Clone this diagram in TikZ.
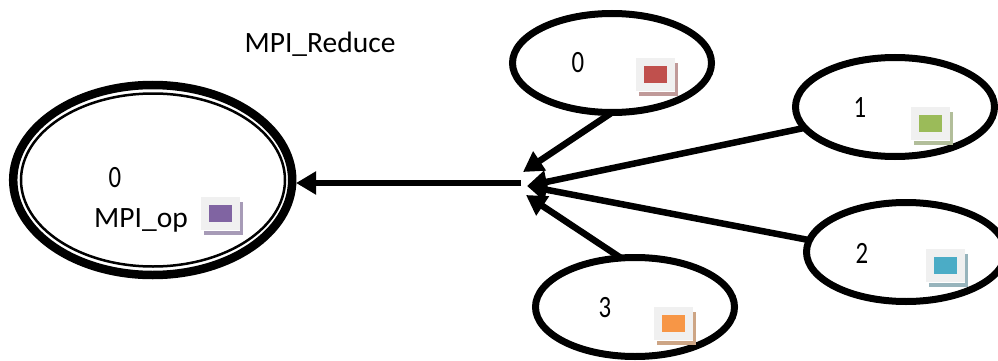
\documentclass[tikz,border=0pt]{standalone}
\usepackage{fontspec}
\setmainfont{Carlito}
\usetikzlibrary{arrows.meta,shapes.geometric}
\newcommand{\myicon}[4]{%
  \fill[#4] (#1+3,#2+5) rectangle ++(39,33);
  \fill[white] (#1+1,#2+3) rectangle ++(38,31);
  \fill[iconbg] (#1,#2) rectangle ++(39,33);
  \fill[#3] (#1+7.5,#2+8) rectangle ++(23.5,17);
}
\definecolor{iconbg}{HTML}{F0F0F0}
\definecolor{pv}{HTML}{8064A2}\definecolor{pvs}{HTML}{A79BB7}
\definecolor{rd}{HTML}{C0504D}\definecolor{rds}{HTML}{C09A99}
\definecolor{gn}{HTML}{9BBB59}\definecolor{gns}{HTML}{B2BE9A}
\definecolor{bl}{HTML}{4BACC6}\definecolor{bls}{HTML}{97B4BC}
\definecolor{og}{HTML}{F79646}\definecolor{ogs}{HTML}{CDA585}
\tikzset{
  proc/.style={draw,ellipse,line width=7pt,minimum width=199pt,minimum height=99pt,inner sep=0pt,outer sep=0pt},
  flow/.style={line width=6.5pt,-{Triangle[length=20pt,width=22pt]}},
  lbl/.style={font=\fontsize{29.5}{30}\selectfont,inner sep=0pt},
  num/.style={font=\fontsize{31}{31}\selectfont,xscale=.8,inner sep=0pt},
}
\begin{document}
\begin{tikzpicture}[x=1pt,y=-1pt]
\useasboundingbox (0,0) rectangle (998,361);
\node[proc] (t0) at (612,63) {};
\node[proc] (t1) at (895,107) {};
\node[proc] (t2) at (906,252) {};
\node[proc] (t3) at (635,307) {};
\node[draw,ellipse,line width=8.5pt,minimum width=279pt,minimum height=190pt,inner sep=0pt,outer sep=0pt] (bigout) at (152.7,180) {};
\node[draw,ellipse,line width=2.5pt,minimum width=264pt,minimum height=173pt,inner sep=0pt,outer sep=0pt] (bigin) at (153,180) {};
\coordinate (hub0) at (523,172);
\coordinate (hub1) at (527,186);
\coordinate (hub3) at (526,195);
\coordinate (hubm) at (521,183);
\coordinate (biged) at (296,183);
\draw[flow] (hubm) -- (biged);
\draw[flow] (t0.south) -- (hub0);
\draw[flow] (t1.193) -- (hub1);
\draw[flow] (t2.173) -- (hub1);
\draw[flow] (t3.106) -- (hub3);
\myicon{201}{197}{pv}{pvs}
\myicon{636}{58}{rd}{rds}
\myicon{911}{107}{gn}{gns}
\myicon{926}{249}{bl}{bls}
\myicon{654}{307}{og}{ogs}
\node[lbl] (title) at (320,44.5) {MPI\_Reduce};
\node[lbl] (op) at (141,220) {MPI\_op};
\begin{scope}
\clip (90,160) rectangle (140,187);
\node[num] (n0) at (115,178) {0};
\end{scope}
\node[num] (nt0) at (578,63) {0};
\node[num] (nt1) at (860,108) {1};
\node[num] (nt2) at (862,253) {2};
\node[num] (nt3) at (605,308) {3};
\end{tikzpicture}
\end{document}
